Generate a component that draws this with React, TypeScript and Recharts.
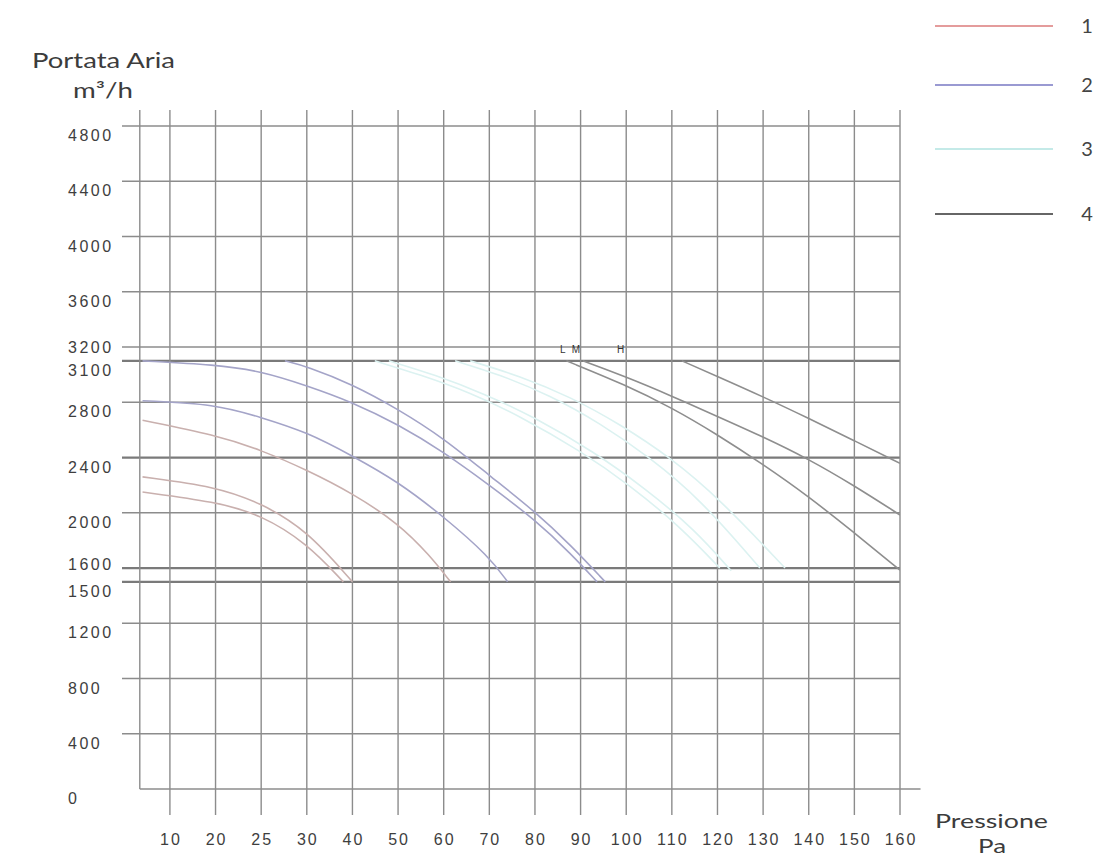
import React from 'react';
import { LineChart, Line, XAxis, YAxis, ReferenceLine, ReferenceDot } from 'recharts';

// Tick labels (x axis is drawn with evenly spaced, non-linear pressure labels)
const pressureTicks = [10, 20, 25, 30, 40, 50, 60, 70, 80, 90, 100, 110, 120, 130, 140, 150, 160];
const flowTicks = [0, 400, 800, 1200, 1500, 1600, 2000, 2400, 2800, 3100, 3200, 3600, 4000, 4400, 4800];
const boldFlowLines = [3100, 2400, 1600, 1500];
const axisOriginPressure = 3.4;

// Series 1 (red)
const curve1a = [[4, 2260], [20, 2190], [25, 2070], [30, 1875], [40, 1500]];
const curve1b = [[4, 2150], [20, 2080], [25, 1985], [30, 1780], [38, 1500]];
const curve1c = [[4, 2670], [20, 2563], [25, 2454], [30, 2310], [40, 2141], [50, 1925], [57, 1690], [61.5, 1500]];
// Series 2 (blue)
const curve2a = [[4, 2811], [20, 2787], [25, 2690], [30, 2585], [40, 2412], [50, 2225], [60, 1972], [70, 1682], [74, 1500]];
const curve2b = [[4, 3100], [20, 3072], [25, 3025], [30, 2920], [40, 2800], [50, 2640], [60, 2440], [70, 2200], [80, 1950], [88, 1700], [93.6, 1500]];
const curve2c = [[27.6, 3100], [30, 3060], [40, 2930], [50, 2750], [60, 2540], [70, 2270], [80, 2010], [88, 1760], [95.4, 1500]];
// Series 3 (cyan)
const curve3a = [[44.9, 3100], [54.8, 3000], [65.8, 2870], [76.7, 2700], [89.9, 2450], [100.8, 2200], [111.8, 1900], [120.5, 1600]];
const curve3b = [[48, 3100], [58, 3000], [69, 2860], [80, 2690], [93, 2440], [104, 2180], [115, 1880], [123, 1580]];
const curve3c = [[62.5, 3100], [72.3, 3000], [83.3, 2850], [94.2, 2650], [105.2, 2400], [116.2, 2100], [129.3, 1600]];
const curve3d = [[65.8, 3100], [76.7, 2990], [87.7, 2840], [98.7, 2640], [109.7, 2400], [120.5, 2100], [134.8, 1600]];
// Series 4 (grey) – L, M, H
const curve4L = [[86.9, 3100], [99.9, 2925], [110, 2760], [119.8, 2570], [130, 2350], [139.9, 2120], [149.8, 1860], [160, 1585]];
const curve4M = [[90.5, 3100], [99.9, 2985], [110, 2845], [119.8, 2700], [130, 2550], [139.9, 2390], [149.8, 2200], [160, 1984]];
const curve4H = [[112.2, 3100], [119.8, 2990], [130, 2840], [139.9, 2685], [149.8, 2525], [160, 2358]];

const speedLabels = [
  { text: 'L', p: 86.1, q: 3186 },
  { text: 'M', p: 89, q: 3186 },
  { text: 'H', p: 98.8, q: 3186 },
];

const legendItems = [
  { label: '1', color: '#e49c9c' },
  { label: '2', color: '#9a9ad2' },
  { label: '3', color: '#c4eae8' },
  { label: '4', color: '#666666' },
];

const seriesColors = ['#c9b0ae', '#a4a4c8', '#dcf2f1', '#8e8e8e'];

const curveGroups = [
  { color: seriesColors[0], curves: [curve1a, curve1b, curve1c] },
  { color: seriesColors[1], curves: [curve2a, curve2b, curve2c] },
  { color: seriesColors[2], curves: [curve3a, curve3b, curve3c, curve3d] },
  { color: seriesColors[3], curves: [curve4L, curve4M, curve4H] },
];

// piecewise mapping of pressure onto evenly spaced label positions
const toPos = (p: number) => {
  const t = pressureTicks;
  if (p <= t[0]) return (p - t[0]) / (t[1] - t[0]);
  for (let i = 0; i < t.length - 1; i++) {
    if (p <= t[i + 1]) return i + (p - t[i]) / (t[i + 1] - t[i]);
  }
  const n = t.length - 1;
  return n + (p - t[n]) / (t[n] - t[n - 1]);
};
const mk = (pts: number[][]) => pts.map(([p, q]) => ({ x: toPos(p), y: q }));

const tickIdx = pressureTicks.map((_, i) => i);
const gridColor = '#8c8c8c';
const textColor = '#3e3e3e';
const tickFont = '"Liberation Sans", Arial, sans-serif';
const titleFont = 'Lato, "Noto Sans", sans-serif';

const YTick = (props: any) => {
  const { y, payload } = props;
  const v = payload.value;
  const dy = v === 3200 ? 6 : v === 1600 ? 2 : 15;
  return (
    <text x={68} y={y + dy} fontSize={16} letterSpacing={2.5} fill={textColor} fontFamily={tickFont} textAnchor="start">
      {v}
    </text>
  );
};

const XTick = (props: any) => {
  const { x, payload } = props;
  const label = pressureTicks[payload.value];
  return (
    <text x={x + 1} y={845} fontSize={16} letterSpacing={2} fill={textColor} fontFamily={tickFont} textAnchor="middle">
      {label}
    </text>
  );
};

export default function App() {
  const W = 1098;
  const H = 857;
  return (
    <div style={{ position: 'absolute', left: 0, top: 0, width: W, height: H, background: '#fff' }}>
      <LineChart width={W} height={H} margin={{ top: 110, left: 62, right: 198, bottom: 12 }}>
        <XAxis
          type="number"
          dataKey="x"
          domain={[toPos(-0.5), 16]}
          ticks={tickIdx}
          interval={0}
          allowDataOverflow
          axisLine={false}
          tickLine={false}
          height={30}
          tick={<XTick />}
        />
        <YAxis
          type="number"
          domain={[-188, 4916]}
          ticks={flowTicks}
          interval={0}
          allowDataOverflow
          axisLine={false}
          tickLine={false}
          width={60}
          tick={<YTick />}
        />
        {flowTicks.filter((v) => v > 0).map((v) => (
          <ReferenceLine
            key={'h' + v}
            y={v}
            stroke={boldFlowLines.includes(v) ? '#7a7a7a' : gridColor}
            strokeWidth={boldFlowLines.includes(v) ? 2.2 : 1.4}
          />
        ))}
        {tickIdx.map((i) => (
          <ReferenceLine key={'v' + i} x={i} stroke={gridColor} strokeWidth={1.4} />
        ))}
        <ReferenceLine
          segment={[{ x: toPos(axisOriginPressure), y: 4916 }, { x: toPos(axisOriginPressure), y: 0 }]}
          stroke={gridColor}
          strokeWidth={1.4}
          ifOverflow="visible"
        />
        <ReferenceLine
          segment={[{ x: toPos(axisOriginPressure), y: 0 }, { x: 16.45, y: 0 }]}
          stroke={gridColor}
          strokeWidth={1.5}
          ifOverflow="visible"
        />
        {curveGroups.map((g, gi) =>
          g.curves.map((c, ci) => (
            <Line
              key={`c${gi}-${ci}`}
              data={mk(c)}
              dataKey="y"
              type="basis"
              dot={false}
              activeDot={false}
              stroke={g.color}
              strokeWidth={1.6}
              isAnimationActive={false}
            />
          ))
        )}
        {speedLabels.map((s) => (
          <ReferenceDot
            key={s.text}
            x={toPos(s.p)}
            y={s.q}
            r={0}
            fill="none"
            stroke="none"
            label={{ value: s.text, position: 'center', fontSize: 10, fill: '#333', stroke: 'none', fontFamily: tickFont }}
          />
        ))}
      </LineChart>
      <svg
        width={W}
        height={H}
        style={{ position: 'absolute', left: 0, top: 0, pointerEvents: 'none' }}
      >
        <text x={32} y={68} fontSize={21} fill="#3c3c3c" fontFamily={titleFont} textLength={143} lengthAdjust="spacingAndGlyphs">
          Portata Aria
        </text>
        <text x={73} y={98} fontSize={21} fill="#3c3c3c" fontFamily={titleFont} textLength={60} lengthAdjust="spacingAndGlyphs">
          m³/h
        </text>
        <text x={935} y={828} fontSize={20} fill="#3c3c3c" fontFamily={titleFont} textLength={113} lengthAdjust="spacingAndGlyphs">
          Pressione
        </text>
        <text x={978} y={853} fontSize={20} fill="#3c3c3c" fontFamily={titleFont} textLength={28} lengthAdjust="spacingAndGlyphs">
          Pa
        </text>
        {legendItems.map((it, i) => {
          const ly = [26, 85, 149, 214][i];
          return (
            <g key={it.label}>
              <line x1={935} x2={1053} y1={ly} y2={ly} stroke={it.color} strokeWidth={2} />
              <text x={1087} y={ly + 7} fontSize={20} fill="#444" fontFamily={titleFont} textAnchor="middle">
                {it.label}
              </text>
            </g>
          );
        })}
      </svg>
    </div>
  );
}
